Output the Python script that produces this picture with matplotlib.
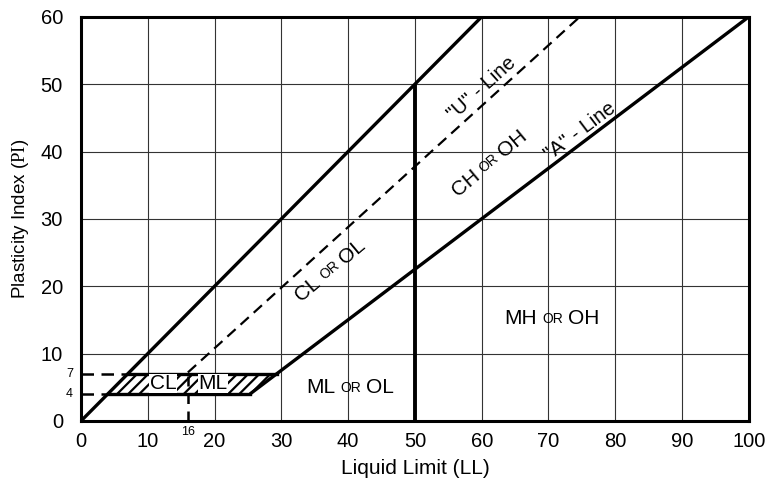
import numpy as np
import matplotlib
matplotlib.use("Agg")
import matplotlib.pyplot as plt

plt.rcParams['font.family'] = ['Liberation Sans', 'DejaVu Sans']
plt.rcParams['hatch.linewidth'] = 1.6
plt.rcParams['mathtext.fontset'] = 'custom'
plt.rcParams['mathtext.rm'] = 'Liberation Serif'

# chart values
ll_ticks = list(range(0, 101, 10))
pi_ticks = list(range(0, 61, 10))
upper_ll = [0, 60]
upper_pi = [0, 60]
u_ll = [16, 74.7]
u_pi = [7.2, 60]
a_ll = [25.3, 100]
a_pi = [4, 60]
ll_split = [50, 50]
pi_split = [0, 50]
zone_ll = [4, 25.3, 29.3, 7]
zone_pi = [4, 4, 7, 7]

fig = plt.figure(figsize=(7.68, 4.8), dpi=100)
ax = fig.add_axes([0.1055, 0.123, 0.8695, 0.842])
ax.set_xlim(0, 100)
ax.set_ylim(0, 60)
ax.set_xticks(ll_ticks)
ax.set_yticks(pi_ticks)
ax.tick_params(length=0, labelsize=14.5)
ax.tick_params(axis='x', pad=8)
ax.tick_params(axis='y', pad=13)
ax.grid(True, color='#333333', linewidth=0.8)
ax.set_axisbelow(True)
for sp in ax.spines.values():
    sp.set_linewidth(2.2)
ax.set_xlabel("Liquid Limit (LL)", fontsize=15, labelpad=6)
ax.set_ylabel(r"Plasticity Index ($\mathrm{PI}$)", fontsize=13.5, labelpad=7)

lw = 2.4
ax.plot(upper_ll, upper_pi, color='black', lw=lw, solid_capstyle='butt')
ax.plot(a_ll, a_pi, color='black', lw=lw, solid_capstyle='butt')
ax.plot(ll_split, pi_split, color='black', lw=lw + 0.4, solid_capstyle='butt')
ax.plot(u_ll, u_pi, color='black', lw=1.6, dashes=(5, 3))

# CL-ML zone
ax.fill(zone_ll, zone_pi, facecolor='white', edgecolor='black', hatch='///', lw=0)
ax.plot(zone_ll[:2], zone_pi[:2], color='black', lw=lw)
ax.plot(zone_ll[2:], zone_pi[2:], color='black', lw=lw)
ax.plot([0, 7], [7, 7], color='black', lw=1.8, dashes=(5, 3))
ax.plot([0, 4], [4, 4], color='black', lw=1.8, dashes=(5, 3))
for s, x in [("CL", 12.3), ("ML", 19.8)]:
    ax.text(x, 5.55, s, fontsize=15, ha='center', va='center', zorder=5,
            bbox=dict(facecolor='white', edgecolor='none', pad=0.3))
ax.plot([16, 16], [0, 7.2], color='black', lw=1.8, dashes=(4, 3), zorder=6)

ax.text(-1.2, 7, "7", fontsize=9, ha='right', va='center')
ax.text(-1.2, 4, "4", fontsize=9, ha='right', va='center')
ax.text(16, -0.7, "16", fontsize=9, ha='center', va='top')


def mixed_label(x, y, parts, angle=0):
    r = fig.canvas.get_renderer()
    widths = []
    for s, size in parts:
        t = ax.text(0, 0, s, fontsize=size)
        widths.append(t.get_window_extent(r).width * 72 / fig.dpi)
        t.remove()
    gap = 3.5
    total = sum(widths) + gap * (len(parts) - 1)
    pos = -total / 2
    a = np.radians(angle)
    for (s, size), w in zip(parts, widths):
        c = pos + w / 2
        ax.annotate(s, (x, y), xytext=(c * np.cos(a), c * np.sin(a)),
                    textcoords='offset points', rotation=angle,
                    rotation_mode='anchor', ha='center', va='center',
                    fontsize=size, zorder=5)
        pos += w + gap


mixed_label(37.3, 22.4, [("CL", 15), ("OR", 10), ("OL", 15)], angle=40)
mixed_label(61.2, 38.3, [("CH", 15), ("OR", 10), ("OH", 15)], angle=40)
mixed_label(70.5, 15.2, [("MH", 15), ("OR", 10), ("OH", 15)])
mixed_label(40.3, 4.9, [("ML", 15), ("OR", 10), ("OL", 15)])

ax.text(60.0, 49.3, '"U" - Line', fontsize=14.5, rotation=42,
        ha='center', va='center', rotation_mode='anchor')
ax.text(74.8, 43.0, '"A" - Line', fontsize=14.5, rotation=37,
        ha='center', va='center', rotation_mode='anchor')

fig.savefig("out.png", dpi=100)
